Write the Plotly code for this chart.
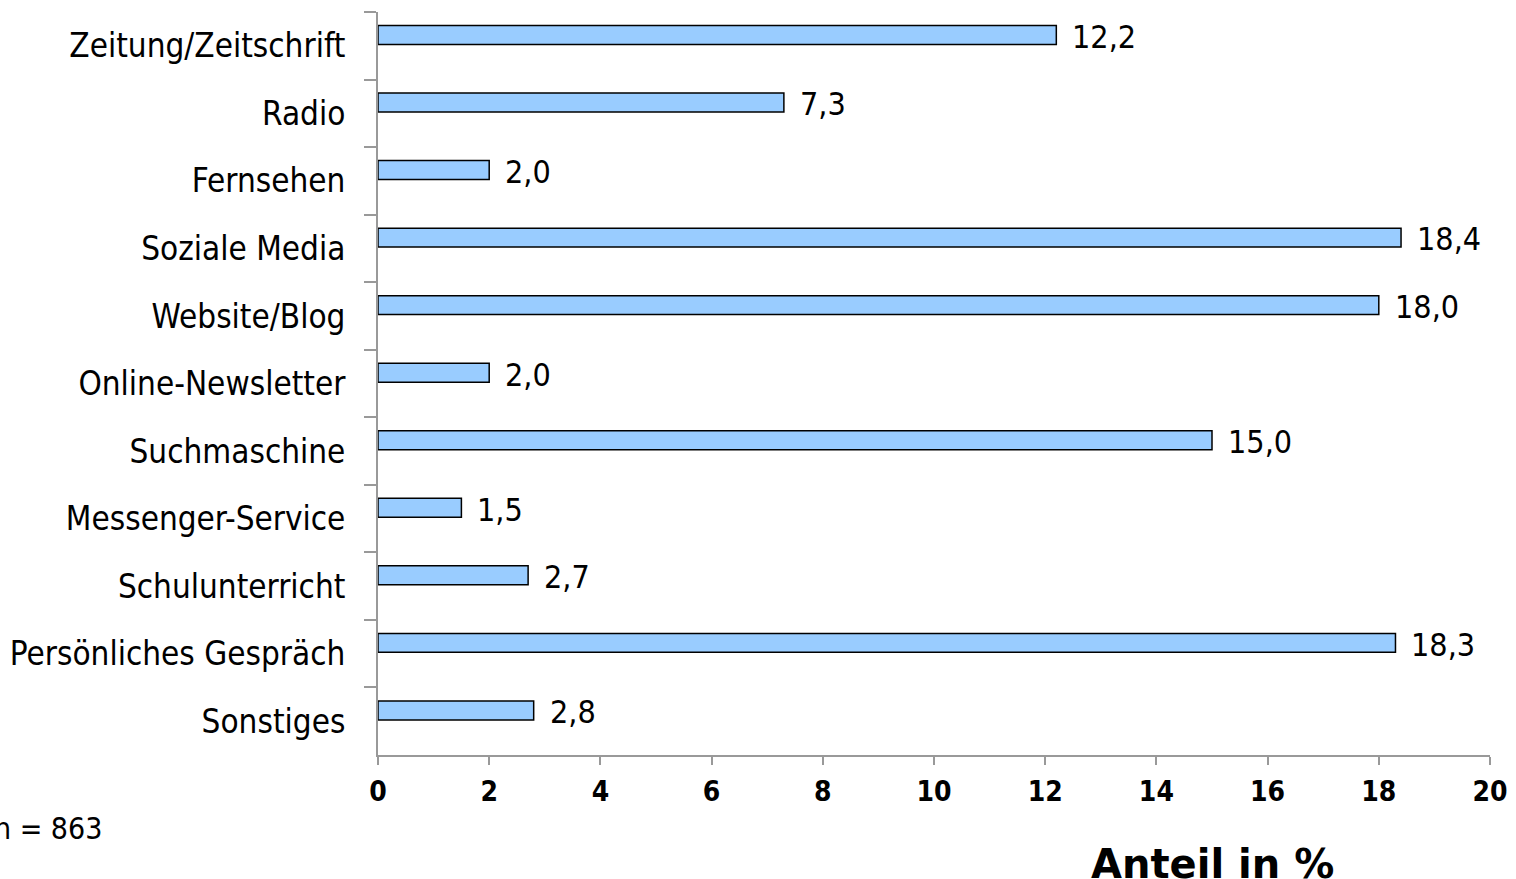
import plotly.graph_objects as go

categories = ["Zeitung/Zeitschrift", "Radio", "Fernsehen", "Soziale Media", "Website/Blog",
              "Online-Newsletter", "Suchmaschine", "Messenger-Service", "Schulunterricht",
              "Persönliches Gespräch", "Sonstiges"]
values = [12.2, 7.3, 2.0, 18.4, 18.0, 2.0, 15.0, 1.5, 2.7, 18.3, 2.8]
x_ticks = [0, 2, 4, 6, 8, 10, 12, 14, 16, 18, 20]
labels = [f"{v:.1f}".replace(".", ",") for v in values]

FONT = "DejaVu Sans Condensed"
W, H = 1516, 879
L, R, T, B = 378, 26, 12, 124
pw = W - L - R
ph = H - T - B

fig = go.Figure()
fig.add_trace(go.Bar(
    y=categories, x=values, orientation="h",
    width=0.28, offset=-0.30,
    marker=dict(color="#99CCFF", line=dict(color="#000000", width=1.5)),
    hoverinfo="skip",
))

annotations = []
for c, v, t in zip(categories, values, labels):
    annotations.append(dict(
        x=v, y=c, xref="x", yref="y", text=t, showarrow=False,
        xanchor="left", yanchor="middle", xshift=14, yshift=9,
        font=dict(family=FONT, size=32, color="#000000"),
    ))

annotations += [
    dict(text="<b>Anteil in %</b>", xref="paper", yref="paper",
         x=(1212 - L) / pw, y=-(864 - (H - B)) / ph, xanchor="center", yanchor="middle",
         showarrow=False, font=dict(family="DejaVu Sans", size=40, color="#000000")),
    dict(text="n = 863", xref="paper", yref="paper",
         x=(-8 - L) / pw, y=-(828 - (H - B)) / ph, xanchor="left", yanchor="middle",
         showarrow=False, font=dict(family=FONT, size=30, color="#000000")),
]

fig.update_layout(
    width=W, height=H,
    margin=dict(l=L, r=R, t=T, b=B, pad=0),
    paper_bgcolor="white", plot_bgcolor="white",
    showlegend=False,
    font=dict(family=FONT, color="#000000"),
    xaxis=dict(
        range=[0, 20], tickvals=x_ticks, ticktext=[str(t) for t in x_ticks],
        showgrid=False, zeroline=False, automargin=False,
        showline=True, linecolor="#999999", linewidth=2,
        ticks="outside", ticklen=8, tickcolor="#999999", tickwidth=2,
        tickfont=dict(family=FONT, size=28, weight="bold"),
        ticklabelstandoff=2,
    ),
    yaxis=dict(
        autorange="reversed", type="category", automargin=False,
        showgrid=False, zeroline=False,
        showline=True, linecolor="#999999", linewidth=2,
        ticks="outside", ticklen=12, tickcolor="#999999", tickwidth=2,
        tickson="boundaries",
        tickfont=dict(family=FONT, size=33),
        ticklabelstandoff=24,
    ),
    annotations=annotations,
)

fig.write_html("out.html", config={"displayModeBar": False},
               post_script="document.body.style.margin='0';document.body.style.overflow='hidden';")
